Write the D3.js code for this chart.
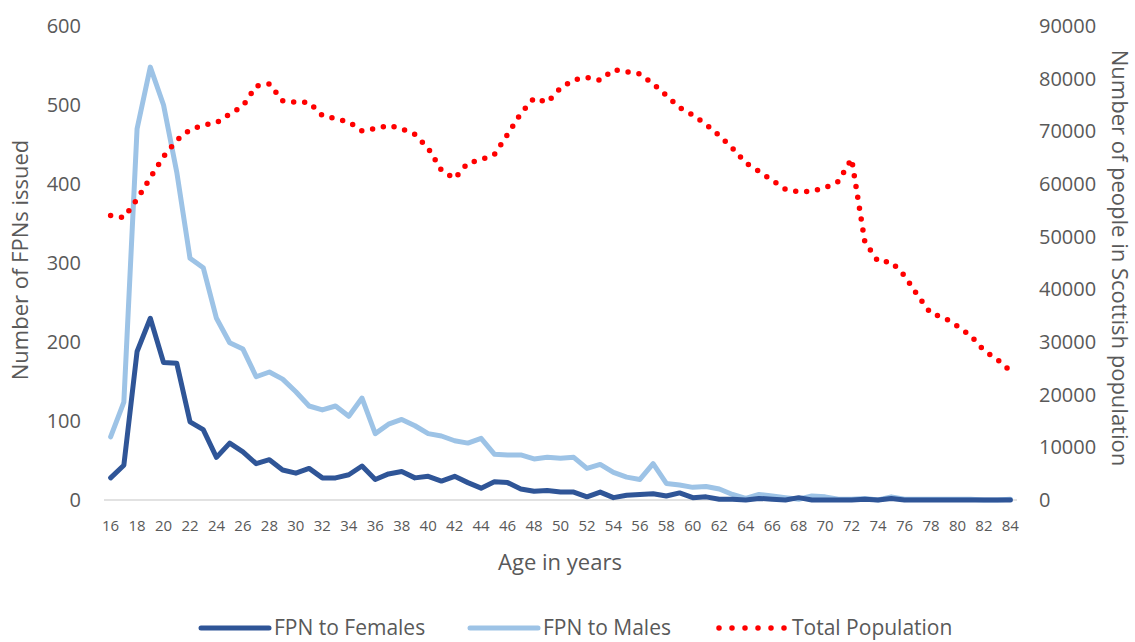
<!DOCTYPE html>
<html>
<head>
<meta charset="utf-8">
<script src="https://cdn.jsdelivr.net/npm/d3@7"></script>
<style>
  body { margin: 0; background: #fff; }
  text { font-family: "Open Sans", "Noto Sans", sans-serif; fill: #595959; }
</style>
</head>
<body>
<div class="canvas"></div>
<script>
// age categories 16..84
const ages = [16,17,18,19,20,21,22,23,24,25,26,27,28,29,30,31,32,33,34,35,36,37,38,39,40,
  41,42,43,44,45,46,47,48,49,50,51,52,53,54,55,56,57,58,59,60,61,62,63,64,65,66,67,68,69,70,
  71,72,73,74,75,76,77,78,79,80,81,82,83,84];

const females = [28,44,188,230,174,173,99,89,54,72,61,46,51,38,34,40,28,28,32,43,26,33,36,28,30,
  24,30,22,15,23,22,14,11,12,10,10,4,10,3,6,7,8,5,9,3,4,1,1,0,2,1,0,3,0,0,
  0,0,1,0,2,0,0,0,0,0,0,0,0,0];

const males = [80,124,470,548,500,415,306,294,230,199,191,156,162,153,137,119,114,119,106,129,84,96,102,94,84,
  81,75,72,78,58,57,57,52,54,53,54,40,45,35,29,26,46,21,19,16,17,14,7,2,7,5,3,1,5,4,
  1,1,2,0,4,1,1,1,1,1,1,0,0,1];

const population = [54000,53600,57100,61200,65200,68300,70300,71200,71600,73300,74800,78600,79000,75800,75500,
  75500,73000,72400,71800,70100,70500,71100,70500,69400,66800,62600,61000,64000,64600,65600,
  69400,73400,76300,75500,78200,79800,80200,79700,81700,81300,80900,79000,76800,74500,73100,
  71300,69200,66800,64000,62400,60700,59000,58500,58600,59300,60500,64800,49000,45300,45200,
  42600,38800,35400,34600,33000,31200,28400,26700,24500];

const xTicks = [16,18,20,22,24,26,28,30,32,34,36,38,40,42,44,46,48,50,52,54,56,58,60,62,64,66,68,70,72,74,76,78,80,82,84];
const leftTicks = [0,100,200,300,400,500,600];
const rightTicks = [0,10000,20000,30000,40000,50000,60000,70000,80000,90000];

const dims = { width: 1135, height: 642 };
const plot = { left: 104, right: 1017, top: 26, bottom: 500 };

const svg = d3.select(".canvas")
  .append("svg")
  .attr("width", dims.width)
  .attr("height", dims.height);

const x = d3.scalePoint()
  .domain(ages)
  .range([plot.left, plot.right])
  .padding(0.5);

const yLeft = d3.scaleLinear().domain([0, 600]).range([plot.bottom, plot.top]);
const yRight = d3.scaleLinear().domain([0, 90000]).range([plot.bottom, plot.top]);

// x axis line
svg.append("line")
  .attr("x1", plot.left).attr("x2", plot.right)
  .attr("y1", plot.bottom).attr("y2", plot.bottom)
  .attr("stroke", "#d9d9d9")
  .attr("stroke-width", 1.5);

// x tick labels
svg.append("g")
  .selectAll("text")
  .data(xTicks)
  .join("text")
  .attr("x", (d) => x(d))
  .attr("y", plot.bottom + 31)
  .attr("text-anchor", "middle")
  .attr("font-size", 15)
  .text((d) => d);

// left tick labels
svg.append("g")
  .selectAll("text")
  .data(leftTicks)
  .join("text")
  .attr("x", 81)
  .attr("y", (d) => yLeft(d))
  .attr("dy", "0.35em")
  .attr("text-anchor", "end")
  .attr("font-size", 20)
  .text((d) => d);

// right tick labels
svg.append("g")
  .selectAll("text")
  .data(rightTicks)
  .join("text")
  .attr("x", 1039)
  .attr("y", (d) => yRight(d))
  .attr("dy", "0.35em")
  .attr("text-anchor", "start")
  .attr("font-size", 20)
  .text((d) => d);

// axis titles
svg.append("text")
  .attr("transform", "translate(28, 260) rotate(-90)")
  .attr("text-anchor", "middle")
  .attr("font-size", 22)
  .text("Number of FPNs issued");

svg.append("text")
  .attr("transform", "translate(1112, 258) rotate(90)")
  .attr("text-anchor", "middle")
  .attr("font-size", 22)
  .text("Number of people in Scottish population");

svg.append("text")
  .attr("x", 560)
  .attr("y", 570)
  .attr("text-anchor", "middle")
  .attr("font-size", 22)
  .text("Age in years");

// lines
const lineLeft = (vals) => d3.line()
  .x((d, i) => x(ages[i]))
  .y((d) => yLeft(d))(vals);

const linePop = d3.line()
  .x((d, i) => x(ages[i]))
  .y((d) => yRight(d));

svg.append("path")
  .attr("d", lineLeft(males))
  .attr("fill", "none")
  .attr("stroke", "#9dc3e6")
  .attr("stroke-width", 5)
  .attr("stroke-linejoin", "round")
  .attr("stroke-linecap", "round");

svg.append("path")
  .attr("d", lineLeft(females))
  .attr("fill", "none")
  .attr("stroke", "#2f5597")
  .attr("stroke-width", 5)
  .attr("stroke-linejoin", "round")
  .attr("stroke-linecap", "round");

svg.append("path")
  .attr("d", linePop(population))
  .attr("fill", "none")
  .attr("stroke", "#ff0000")
  .attr("stroke-width", 5.5)
  .attr("stroke-linecap", "round")
  .attr("stroke-dasharray", "0 11");

// legend
const legendItems = [
  { name: "FPN to Females", color: "#2f5597", dash: null, x: 201 },
  { name: "FPN to Males", color: "#9dc3e6", dash: null, x: 470 },
  { name: "Total Population", color: "#ff0000", dash: "0 13", x: 719 }
];

const legend = svg.append("g").attr("transform", "translate(0, 628)");

legendItems.forEach((item) => {
  legend.append("line")
    .attr("x1", item.x).attr("x2", item.x + 68)
    .attr("y1", 0).attr("y2", 0)
    .attr("stroke", item.color)
    .attr("stroke-width", item.dash ? 5.5 : 5)
    .attr("stroke-linecap", "round")
    .attr("stroke-dasharray", item.dash);
  legend.append("text")
    .attr("x", item.x + 73)
    .attr("y", 0)
    .attr("dy", "0.35em")
    .attr("font-size", 21)
    .text(item.name);
});
</script>
</body>
</html>
